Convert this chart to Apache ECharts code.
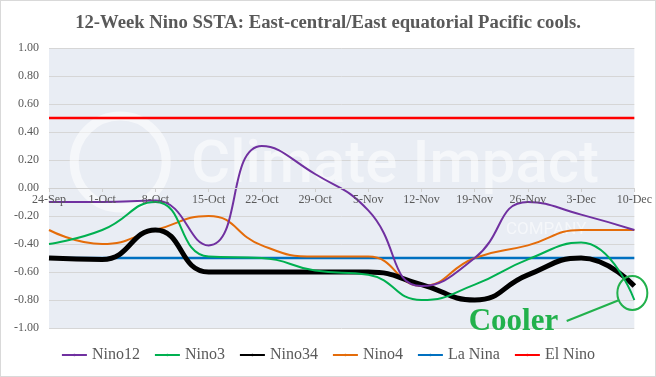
<!DOCTYPE html>
<html>
<head>
<meta charset="utf-8">
<script src="https://cdn.jsdelivr.net/npm/echarts@6/dist/echarts.min.js"></script>
<style>
    html, body { margin: 0; padding: 0; background: #fff; }
    #chart { width: 654px; height: 375px; border: 1px solid #d9d9d9; }
</style>
</head>
<body>
<div id="chart"></div>
<script>
var categories = ["24-Sep", "1-Oct", "8-Oct", "15-Oct", "22-Oct", "29-Oct", "5-Nov", "12-Nov", "19-Nov", "26-Nov", "3-Dec", "10-Dec"];
var nino12 = [-0.10, -0.10, -0.09, -0.41, 0.30, 0.10, -0.16, -0.70, -0.50, -0.10, -0.19, -0.30];
var nino3 = [-0.40, -0.30, -0.10, -0.49, -0.50, -0.59, -0.62, -0.80, -0.69, -0.51, -0.39, -0.80];
var nino34 = [-0.50, -0.51, -0.30, -0.60, -0.60, -0.60, -0.60, -0.69, -0.80, -0.62, -0.50, -0.70];
var nino4 = [-0.30, -0.40, -0.30, -0.20, -0.41, -0.49, -0.49, -0.70, -0.50, -0.41, -0.30, -0.30];
var laNina = [-0.5, -0.5, -0.5, -0.5, -0.5, -0.5, -0.5, -0.5, -0.5, -0.5, -0.5, -0.5];
var elNino = [0.5, 0.5, 0.5, 0.5, 0.5, 0.5, 0.5, 0.5, 0.5, 0.5, 0.5, 0.5];
var yTicks = { min: -1, max: 1, interval: 0.2 };

var serif = "'Liberation Serif', 'DejaVu Serif', serif";
var chart = echarts.init(document.getElementById("chart"));

function lineSeries(name, data, color, width, z) {
    return {
        name: name,
        type: 'line',
        smooth: 0.5,
        symbol: 'none',
        z: z,
        lineStyle: { color: color, width: width },
        itemStyle: { color: color },
        data: data
    };
}

var option = {
    animation: false,
    title: {
        text: "12-Week Nino SSTA: East-central/East equatorial Pacific cools.",
        left: 'center',
        top: 8,
        textStyle: { fontFamily: serif, fontSize: 18.7, fontWeight: 'bold', color: '#595959' }
    },
    grid: {
        left: 48,
        right: 17,
        top: 47,
        bottom: 48,
        show: true,
        backgroundColor: '#e9edf4',
        borderWidth: 0
    },
    legend: {
        left: 'center',
        top: 346,
        padding: 0,
        itemWidth: 25,
        itemHeight: 3,
        itemGap: 14,
        textStyle: { fontFamily: serif, fontSize: 16, color: '#595959' },
        data: ['Nino12', 'Nino3', 'Nino34', 'Nino4', 'La Nina', 'El Nino']
    },
    xAxis: {
        type: 'category',
        boundaryGap: false,
        data: categories,
        z: 10,
        axisLine: { onZero: false, lineStyle: { color: '#d0d0d0', width: 1 } },
        axisTick: { show: true, alignWithLabel: true, length: 4, lineStyle: { color: '#d0d0d0' } },
        axisLabel: { fontFamily: serif, fontSize: 12, color: '#595959', margin: 6, interval: 0 },
        splitLine: { show: false }
    },
    yAxis: {
        type: 'value',
        min: yTicks.min,
        max: yTicks.max,
        interval: yTicks.interval,
        axisLine: { show: false },
        axisTick: { show: false },
        axisLabel: {
            fontFamily: serif, fontSize: 12, color: '#595959', margin: 10,
            formatter: function (v) { return v.toFixed(2); }
        },
        splitLine: { lineStyle: { color: '#d6d6d6', width: 1 } }
    },
    series: [
        lineSeries('Nino12', nino12, '#7030a0', 2, 5),
        lineSeries('Nino3', nino3, '#00b050', 2, 6),
        lineSeries('Nino34', nino34, '#000000', 5, 4),
        lineSeries('Nino4', nino4, '#e46c0a', 2, 3),
        lineSeries('La Nina', laNina, '#0070c0', 2.5, 2),
        lineSeries('El Nino', elNino, '#ff0000', 2.5, 2)
    ]
};
chart.setOption(option);

// move the category axis up onto the zero line
var y0 = chart.convertToPixel({ yAxisIndex: 0 }, 0);
var yBottom = chart.convertToPixel({ yAxisIndex: 0 }, yTicks.min);

var wm = chart.convertToPixel({ gridIndex: 0 }, ['1-Oct', 0.1]);
var endPt = chart.convertToPixel({ gridIndex: 0 }, ['10-Dec', -0.75]);
var txtPt = chart.convertToPixel({ gridIndex: 0 }, ['19-Nov', -0.96]);

chart.setOption({
    xAxis: { offset: -(yBottom - y0) },
    graphic: [
        {
            type: 'circle', z: 0, silent: true,
            shape: { cx: wm[0] + 18, cy: wm[1] - 12, r: 46 },
            style: { fill: 'none', stroke: '#ffffff', lineWidth: 9, opacity: 0.55 }
        },
        {
            type: 'text', z: 0, silent: true,
            left: 190, top: 136,
            style: { text: 'Climate Impact', fill: '#ffffff', opacity: 0.55, font: '500 60px Roboto, sans-serif' }
        },
        {
            type: 'text', z: 0, silent: true,
            left: 505, top: 220,
            style: { text: 'COMPANY', fill: '#ffffff', opacity: 0.55, font: '17px Roboto, sans-serif' }
        },
        {
            type: 'ellipse', z: 100,
            shape: { cx: endPt[0] - 2, cy: endPt[1], rx: 15, ry: 17 },
            style: { fill: 'none', stroke: '#22b14c', lineWidth: 2 }
        },
        {
            type: 'line', z: 100,
            shape: { x1: txtPt[0] + 92, y1: 320, x2: endPt[0] - 15, y2: endPt[1] + 7 },
            style: { stroke: '#22b14c', lineWidth: 2 }
        },
        {
            type: 'text', z: 100,
            left: txtPt[0] - 6, top: 305,
            style: { text: 'Cooler', fill: '#22b14c', font: 'bold 31px ' + serif }
        }
    ]
});
</script>
</body>
</html>
